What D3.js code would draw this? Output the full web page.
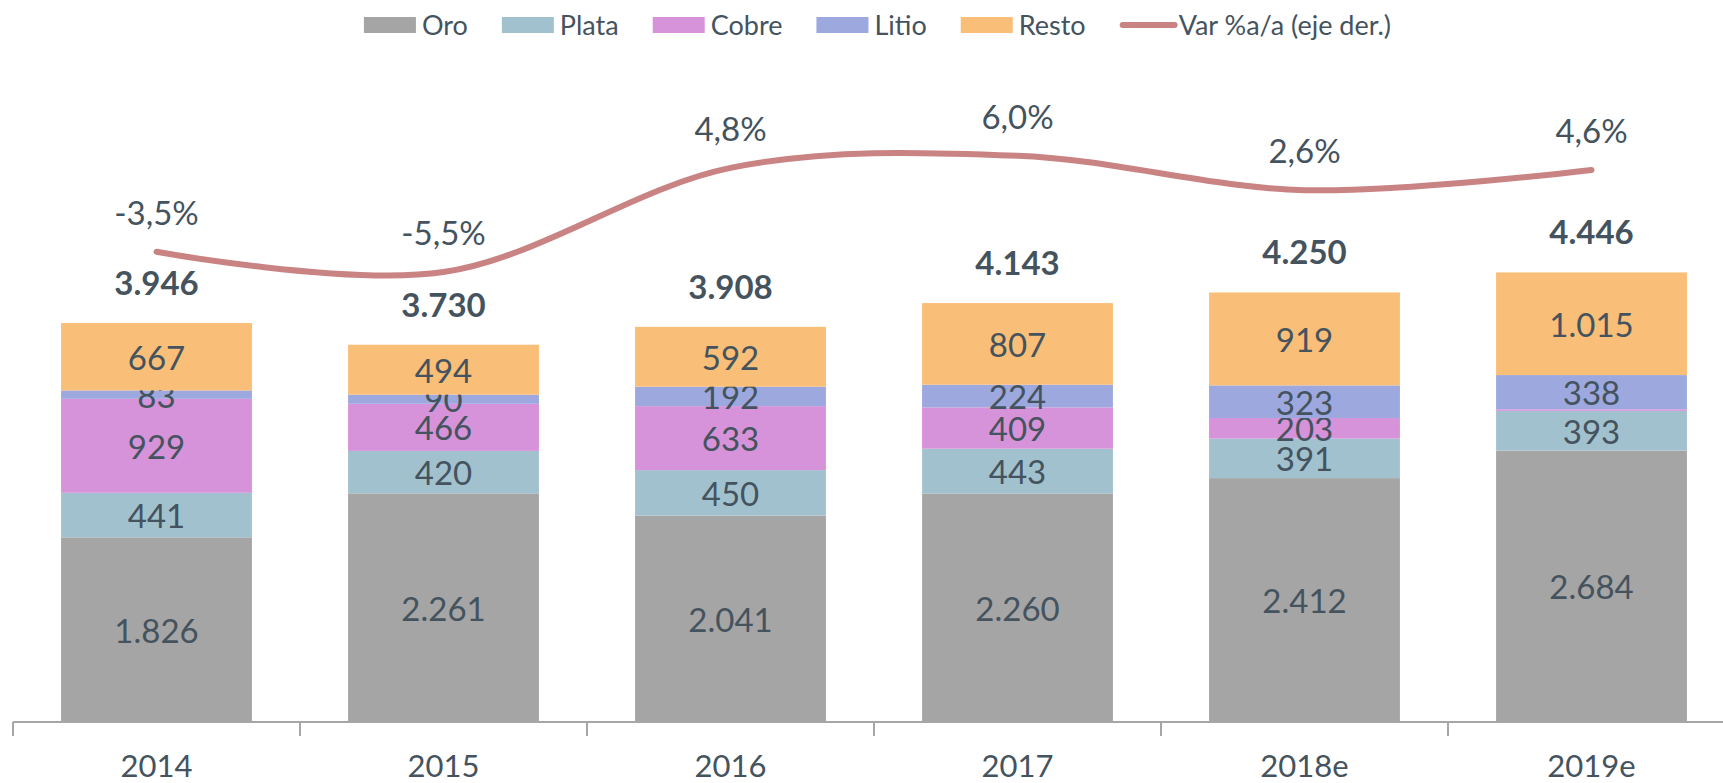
<!DOCTYPE html>
<html>
<head>
<meta charset="utf-8">
<script src="https://cdnjs.cloudflare.com/ajax/libs/d3/7.8.5/d3.min.js"></script>
<style>
  html, body { margin: 0; padding: 0; background: #fff; }
  svg { display: block; font-family: Lato, "Open Sans", sans-serif; }
</style>
</head>
<body>
<div id="container"></div>
<script>
// data
var years = ["2014", "2015", "2016", "2017", "2018e", "2019e"];
var seriesNames = ["Oro", "Plata", "Cobre", "Litio", "Resto"];
var oro   = [1826, 2261, 2041, 2260, 2412, 2684];
var plata = [441, 420, 450, 443, 391, 393];
var cobre = [929, 466, 633, 409, 203, 16];
var litio = [83, 90, 192, 224, 323, 338];
var resto = [667, 494, 592, 807, 919, 1015];
var totals = [3946, 3730, 3908, 4143, 4250, 4446];
var varPct = [-3.5, -5.5, 4.8, 6.0, 2.6, 4.6];
var lineName = "Var %a/a (eje der.)";

var colors = ["#a5a5a5", "#a2c1ce", "#d693d9", "#9da8de", "#f9be77"];
var lineColor = "#c98383";
var textColor = "#44535e";

var W = 1723, H = 783;
var svg = d3.select("#container").append("svg")
  .attr("width", W).attr("height", H);

var x = d3.scaleBand().domain(years)
  .range([13, 13 + 6 * 287])
  .paddingInner(0.335).paddingOuter(0.1675);
var y = d3.scaleLinear().domain([0, 6000]).range([722, 115.3]);
var y2 = d3.scaleLinear().domain([-50, 10]).range([722, 115.3]);

var fmtNum = function(v) { return d3.format(",")(v).replace(/,/g, "."); };
var fmtPct = function(v) { return d3.format(".1f")(v).replace(".", ",").replace("\u2212", "-") + "%"; };

// stack
var table = years.map(function(yr, i) {
  return { year: yr, Oro: oro[i], Plata: plata[i], Cobre: cobre[i], Litio: litio[i], Resto: resto[i] };
});
var stacked = d3.stack().keys(seriesNames)(table);

var layers = svg.selectAll("g.layer").data(stacked).enter()
  .append("g").attr("class", "layer")
  .attr("fill", function(d, i) { return colors[i]; });

layers.selectAll("rect").data(function(d) { return d; }).enter()
  .append("rect")
  .attr("x", function(d) { return x(d.data.year); })
  .attr("width", x.bandwidth())
  .attr("y", function(d) { return y(d[1]); })
  .attr("height", function(d) { return y(d[0]) - y(d[1]); });

// segment labels (the tiny 2019 Cobre slice has none)
layers.selectAll("text").data(function(d) { return d.filter(function(s) { return s[1] - s[0] > 50; }); })
  .enter().append("text")
  .attr("x", function(d) { return x(d.data.year) + x.bandwidth() / 2; })
  .attr("y", function(d) { return (y(d[0]) + y(d[1])) / 2; })
  .attr("text-anchor", "middle")
  .attr("dominant-baseline", "central")
  .attr("fill", textColor)
  .style("font-size", "33px")
  .text(function(d) { return fmtNum(d[1] - d[0]); });

// totals
svg.selectAll("text.total").data(totals).enter()
  .append("text").attr("class", "total")
  .attr("x", function(d, i) { return x(years[i]) + x.bandwidth() / 2; })
  .attr("y", function(d, i) { return y(d3.sum(stacked, function(s) { return s[i][1] - s[i][0]; })) - 28; })
  .attr("text-anchor", "middle")
  .attr("fill", textColor)
  .style("font-size", "33px").style("font-weight", "bold")
  .text(fmtNum);

// x axis
var axis = svg.append("g").attr("transform", "translate(0,722)");
axis.append("line").attr("x1", 13).attr("x2", W).attr("y1", 0).attr("y2", 0)
  .attr("stroke", "#a6a6a6").attr("stroke-width", 2);
var bounds = d3.range(years.length + 1).map(function(i) { return 13 + i * x.step(); });
axis.selectAll("line.tick").data(bounds).enter()
  .append("line").attr("class", "tick")
  .attr("x1", function(d) { return d; }).attr("x2", function(d) { return d; })
  .attr("y1", 0).attr("y2", 14)
  .attr("stroke", "#a6a6a6").attr("stroke-width", 2);
axis.selectAll("text").data(years).enter()
  .append("text")
  .attr("x", function(d) { return x(d) + x.bandwidth() / 2; })
  .attr("y", 55)
  .attr("text-anchor", "middle")
  .attr("fill", textColor)
  .style("font-size", "31px")
  .text(function(d) { return d; });

// line on right axis
var line = d3.line()
  .x(function(d, i) { return x(years[i]) + x.bandwidth() / 2; })
  .y(function(d) { return y2(d); })
  .curve(d3.curveCardinal);
svg.append("path").datum(varPct)
  .attr("d", line)
  .attr("fill", "none")
  .attr("stroke", lineColor)
  .attr("stroke-width", 6)
  .attr("stroke-linecap", "round");

svg.selectAll("text.pct").data(varPct).enter()
  .append("text").attr("class", "pct")
  .attr("x", function(d, i) { return x(years[i]) + x.bandwidth() / 2; })
  .attr("y", function(d) { return y2(d) - 27; })
  .attr("text-anchor", "middle")
  .attr("fill", textColor)
  .style("font-size", "33px")
  .text(fmtPct);

// legend
var legend = svg.append("g");
var lx = 0;
var items = seriesNames.concat([lineName]);
items.forEach(function(name, i) {
  var g = legend.append("g").attr("transform", "translate(" + lx + ",0)");
  if (i < seriesNames.length) {
    g.append("rect").attr("x", 0).attr("y", 17).attr("width", 52).attr("height", 16)
      .attr("fill", colors[i]);
  } else {
    g.append("line").attr("x1", 3).attr("x2", 55).attr("y1", 25).attr("y2", 25)
      .attr("stroke", lineColor).attr("stroke-width", 6).attr("stroke-linecap", "round");
  }
  var t = g.append("text").attr("x", i < seriesNames.length ? 58 : 59).attr("y", 35)
    .attr("fill", textColor).style("font-size", "27px").text(name);
  lx += (i < seriesNames.length ? 58 : 59) + t.node().getComputedTextLength() + 34;
});
var lw = lx - 34;
legend.attr("transform", "translate(" + (877.5 - lw / 2) + ",0)");
</script>
</body>
</html>
